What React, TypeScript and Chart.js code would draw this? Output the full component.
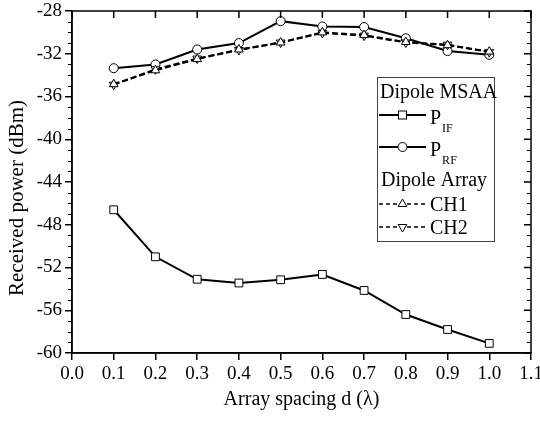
import React, { useEffect, useRef } from 'react';
import { Chart, registerables } from 'chart.js';

Chart.register(...registerables);

// ---- Data ----
const spacing = [0.1, 0.2, 0.3, 0.4, 0.5, 0.6, 0.7, 0.8, 0.9, 1.0];
const pIF = [-46.6, -51.0, -53.1, -53.45, -53.15, -52.65, -54.15, -56.4, -57.8, -59.1];
const pRF = [-33.35, -33.0, -31.6, -31.0, -28.95, -29.45, -29.5, -30.55, -31.75, -32.1];
const ch1 = [-34.85, -33.55, -32.5, -31.6, -30.95, -30.0, -30.25, -30.9, -31.2, -31.8];
const ch2 = [-34.9, -33.45, -32.45, -31.65, -30.95, -30.05, -30.3, -30.95, -31.15, -31.85];

const xTicks = [0, 0.1, 0.2, 0.3, 0.4, 0.5, 0.6, 0.7, 0.8, 0.9, 1.0, 1.1];
const yTicks = [-60, -56, -52, -48, -44, -40, -36, -32, -28];
const yMinorStep = 1;

const xTitle = 'Array spacing d (\u03bb)';
const yTitle = 'Received power (dBm)';
const legendGroup1 = 'Dipole MSAA';
const legendGroup2 = 'Dipole Array';

const FONT = '"Liberation Serif", "Times New Roman", serif';

function drawSquare(ctx: CanvasRenderingContext2D, cx: number, cy: number, h: number) {
  ctx.fillStyle = '#fff';
  ctx.fillRect(cx - h, cy - h, 2 * h, 2 * h);
  ctx.strokeRect(cx - h, cy - h, 2 * h, 2 * h);
}
function drawCircle(ctx: CanvasRenderingContext2D, cx: number, cy: number, r: number) {
  ctx.beginPath();
  ctx.arc(cx, cy, r, 0, Math.PI * 2);
  ctx.fillStyle = '#fff';
  ctx.fill();
  ctx.stroke();
}
function drawTri(ctx: CanvasRenderingContext2D, cx: number, cy: number, r: number, down: boolean) {
  const s = down ? -1 : 1;
  const k = Math.sin(Math.PI / 3) * r;
  ctx.beginPath();
  ctx.moveTo(cx, cy - s * r);
  ctx.lineTo(cx + k, cy + s * r * 0.5);
  ctx.lineTo(cx - k, cy + s * r * 0.5);
  ctx.closePath();
  ctx.fillStyle = '#fff';
  ctx.fill();
  ctx.stroke();
}

const framePlugin = {
  id: 'frame',
  afterDraw(chart: any) {
    const { ctx, chartArea: a, scales } = chart;
    const xs = scales.x;
    const ys = scales.y;
    ctx.save();
    ctx.strokeStyle = '#000';
    ctx.lineWidth = 1.5;
    ctx.strokeRect(a.left, a.top, a.right - a.left, a.bottom - a.top);
    ctx.beginPath();
    for (const v of xTicks) {
      const px = xs.getPixelForValue(v);
      ctx.moveTo(px, a.top);
      ctx.lineTo(px, a.top + 7);
    }
    for (const v of yTicks) {
      const py = ys.getPixelForValue(v);
      ctx.moveTo(a.right, py);
      ctx.lineTo(a.right - 7, py);
    }
    ctx.stroke();
    ctx.lineWidth = 1;
    ctx.beginPath();
    for (let v = yTicks[0]; v <= yTicks[yTicks.length - 1]; v += yMinorStep) {
      if (yTicks.includes(v)) continue;
      const py = Math.round(ys.getPixelForValue(v)) + 0.5;
      ctx.moveTo(a.left, py);
      ctx.lineTo(a.left - 4, py);
      ctx.moveTo(a.right, py);
      ctx.lineTo(a.right - 4, py);
    }
    ctx.stroke();

    // y title
    ctx.fillStyle = '#000';
    ctx.font = `21px ${FONT}`;
    ctx.textAlign = 'center';
    ctx.textBaseline = 'middle';
    ctx.save();
    ctx.translate(17, (a.top + a.bottom) / 2 + 16);
    ctx.rotate(-Math.PI / 2);
    ctx.fillText(yTitle, 0, 0);
    ctx.restore();

    // legend
    const L = 377.5, T = 77.5, W = 117, H = 164;
    ctx.fillStyle = '#fff';
    ctx.fillRect(L, T, W, H);
    ctx.strokeStyle = '#444';
    ctx.lineWidth = 1;
    ctx.strokeRect(L, T, W, H);

    ctx.fillStyle = '#000';
    ctx.textAlign = 'left';
    ctx.textBaseline = 'alphabetic';
    ctx.font = `20px ${FONT}`;
    ctx.fillText(legendGroup1, 380, 98);
    ctx.fillText(legendGroup2, 381, 186);

    const x0 = 379, x1 = 426, xm = 402.5, tx = 430;
    const row = (y: number, dashed: boolean, marker: (cy: number) => void, main: string, sub: string, base: number) => {
      ctx.strokeStyle = '#000';
      ctx.lineWidth = dashed ? 1.6 : 2;
      ctx.setLineDash(dashed ? [4, 3] : []);
      ctx.beginPath();
      ctx.moveTo(x0, y);
      ctx.lineTo(x1, y);
      ctx.stroke();
      ctx.setLineDash([]);
      ctx.lineWidth = 1;
      marker(y);
      ctx.fillStyle = '#000';
      ctx.font = `20px ${FONT}`;
      ctx.fillText(main, tx, base);
      if (sub) {
        const w = ctx.measureText(main).width;
        ctx.font = `12px ${FONT}`;
        ctx.fillText(sub, tx + w + 1, base + 8);
      }
    };
    row(115, false, (cy) => drawSquare(ctx, xm, cy, 4), 'P', 'IF', 124);
    row(147, false, (cy) => drawCircle(ctx, xm, cy, 4.5), 'P', 'RF', 156);
    row(204, true, (cy) => drawTri(ctx, xm, cy, 5, false), 'CH1', '', 211);
    row(227, true, (cy) => drawTri(ctx, xm, cy, 5, true), 'CH2', '', 234);

    ctx.restore();
  },
};

export default function App() {
  const ref = useRef<HTMLCanvasElement | null>(null);
  useEffect(() => {
    if (!ref.current) return;
    const mk = (vals: number[]) => spacing.map((x, i) => ({ x, y: vals[i] }));
    const chart = new Chart(ref.current, {
      type: 'line',
      data: {
        datasets: [
          {
            label: 'CH1',
            data: mk(ch1),
            borderColor: '#000',
            borderWidth: 2,
            borderDash: [6, 3],
            pointStyle: 'triangle',
            pointRadius: 5,
            pointBackgroundColor: '#fff',
            pointBorderColor: '#000',
            pointBorderWidth: 1,
            tension: 0,
          },
          {
            label: 'CH2',
            data: mk(ch2),
            borderColor: '#000',
            borderWidth: 2,
            borderDash: [6, 3],
            pointStyle: 'triangle',
            pointRotation: 180,
            pointRadius: 5,
            pointBackgroundColor: '#fff',
            pointBorderColor: '#000',
            pointBorderWidth: 1,
            tension: 0,
          },
          {
            label: 'P_RF',
            data: mk(pRF),
            borderColor: '#000',
            borderWidth: 2,
            pointStyle: 'circle',
            pointRadius: 4.5,
            pointBackgroundColor: '#fff',
            pointBorderColor: '#000',
            pointBorderWidth: 1,
            tension: 0,
          },
          {
            label: 'P_IF',
            data: mk(pIF),
            borderColor: '#000',
            borderWidth: 2,
            pointStyle: 'rect',
            pointRadius: 5.5,
            pointBackgroundColor: '#fff',
            pointBorderColor: '#000',
            pointBorderWidth: 1,
            tension: 0,
          },
        ],
      },
      options: {
        responsive: false,
        animation: false,
        devicePixelRatio: 1,
        layout: { padding: { top: 11, right: 9, left: 0, bottom: 0 } },
        plugins: { legend: { display: false }, tooltip: { enabled: false } },
        scales: {
          x: {
            type: 'linear',
            min: 0,
            max: 1.1,
            afterBuildTicks: (s: any) => {
              s.ticks = xTicks.map((v) => ({ value: v }));
            },
            afterFit: (s: any) => {
              s.height = 72;
              s.paddingLeft = 0;
              s.paddingRight = 0;
            },
            ticks: {
              callback: (v: any) => Number(v).toFixed(1),
              font: { family: FONT, size: 19 },
              color: '#000',
              padding: 3,
              maxRotation: 0,
              autoSkip: false,
            },
            grid: { drawOnChartArea: false, drawTicks: true, tickLength: 7, color: '#000', lineWidth: 1.5 },
            border: { display: true, color: '#000', width: 1.5 },
            title: {
              display: true,
              text: xTitle,
              font: { family: FONT, size: 20 },
              color: '#000',
              padding: { top: 0, bottom: 13 },
            },
          },
          y: {
            type: 'linear',
            min: -60,
            max: -28,
            afterBuildTicks: (s: any) => {
              s.ticks = yTicks.map((v) => ({ value: v }));
            },
            afterFit: (s: any) => {
              s.width = 72;
              s.paddingTop = 0;
              s.paddingBottom = 0;
            },
            ticks: {
              callback: (v: any) => String(v),
              font: { family: FONT, size: 19 },
              color: '#000',
              padding: 3,
              autoSkip: false,
            },
            grid: { drawOnChartArea: false, drawTicks: true, tickLength: 7, color: '#000', lineWidth: 1.5 },
            border: { display: true, color: '#000', width: 1.5 },
          },
        },
      },
      plugins: [framePlugin],
    } as any);
    return () => chart.destroy();
  }, []);
  return (
    <div style={{ position: 'fixed', left: 0, top: 0, width: 540, height: 425, background: '#fff' }}>
      <canvas ref={ref} width={540} height={425} style={{ display: 'block', width: 540, height: 425 }} />
    </div>
  );
}
